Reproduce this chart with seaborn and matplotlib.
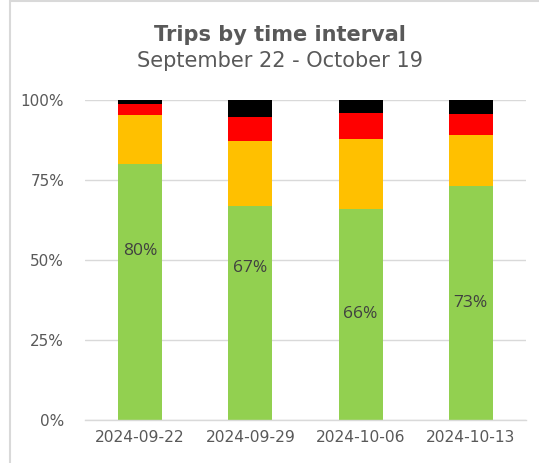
import numpy as np
import pandas as pd
import matplotlib
matplotlib.use("Agg")
import matplotlib.pyplot as plt
import seaborn as sns
from matplotlib.patches import Rectangle

weeks = ["2024-09-22", "2024-09-29", "2024-10-06", "2024-10-13"]
green = [80.0, 67.0, 66.0, 73.0]
yellow = [15.3, 20.2, 21.7, 16.0]
red = [3.5, 7.6, 8.3, 6.7]
black = [1.2, 5.2, 4.0, 4.3]
green_labels = ["80%", "67%", "66%", "73%"]
yticks = [0, 25, 50, 75, 100]
ytick_labels = ["0%", "25%", "50%", "75%", "100%"]

series_names = ["green", "yellow", "red", "black"]
series_vals = [green, yellow, red, black]
colors = {"green": "#92D050", "yellow": "#FFC000", "red": "#FF0000", "black": "#000000"}

sns.set_theme(style="white")
plt.rcParams['font.family'] = ['DejaVu Sans']
plt.rcParams['font.sans-serif'] = ['DejaVu Sans']

fig = plt.figure(figsize=(5.39, 4.63), dpi=100)
ax = fig.add_axes([85/539, 1 - 420/463, (526-85)/539, 320/463])

cum = np.cumsum(np.array(series_vals), axis=0)
for i in range(len(series_names) - 1, -1, -1):
    df = pd.DataFrame({"week": weeks, "value": cum[i]})
    sns.barplot(data=df, x="week", y="value", color=colors[series_names[i]],
                width=0.4, saturation=1, ax=ax, linewidth=0, zorder=3)

label_shift = [12.8, 14.0, 0.0, 0.0]
for i, lab in enumerate(green_labels):
    ax.text(i, green[i] / 2 + label_shift[i], lab, ha="center", va="center",
            fontsize=12.5, color="#404040", family=["Open Sans", "DejaVu Sans"], zorder=5)

ax.set_ylim(0, 100)
ax.set_xlim(-0.5, 3.5)
ax.set_yticks(yticks)
ax.set_yticklabels(ytick_labels, family="DejaVu Sans")
ax.set_xlabel("")
ax.set_ylabel("")
ax.yaxis.grid(True, color="#D9D9D9", linewidth=1.0, zorder=0)
ax.set_axisbelow(True)
for s in ["left", "right", "top"]:
    ax.spines[s].set_visible(False)
ax.spines["bottom"].set_color("#D9D9D9")
ax.spines["bottom"].set_linewidth(1.0)
ax.spines["bottom"].set_zorder(4)
ax.tick_params(axis="y", length=0, labelsize=11, labelcolor="#595959", pad=15)
ax.set_xticks([0, 1, 2, 3])
ax.set_xticklabels(weeks, family="DejaVu Sans")
ax.tick_params(axis="x", length=0, labelsize=11.2, labelcolor="#595959", pad=7)
ax.set_xticks([-0.5, 0.5, 1.5, 2.5, 3.5], minor=True)
ax.tick_params(axis="x", which="minor", length=5, color="#D9D9D9", width=1.0, direction="out")

fig.text(280/539, 1 - 41/463, "Trips by time interval", ha="center", va="baseline",
         fontsize=15, fontweight="bold", color="#595959", family="DejaVu Sans")
fig.text(280/539, 1 - 67/463, "September 22 - October 19", ha="center", va="baseline",
         fontsize=15, color="#595959", family="DejaVu Sans")

fig.patches.append(Rectangle((10/539, -0.1), 1.2, 1 - 1.5/463 + 0.1, transform=fig.transFigure,
                             fill=False, edgecolor="#D9D9D9", linewidth=1.5))

fig.savefig("out.png", dpi=100)
